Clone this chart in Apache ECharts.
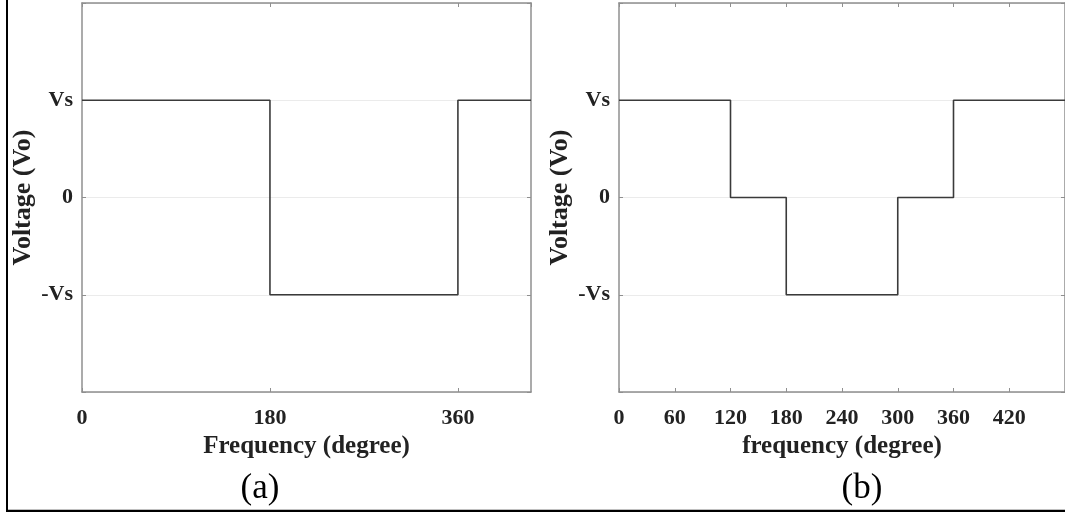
<!DOCTYPE html>
<html>
<head>
<meta charset="utf-8">
<script src="https://cdn.jsdelivr.net/npm/echarts@6/dist/echarts.min.js"></script>
<style>
html,body{margin:0;padding:0;background:#fff;}
#chart{width:1065px;height:512px;}
</style>
</head>
<body>
<div id="chart"></div>
<script>
// ---- data ----
const aDegrees = [0, 180, 360, 430];
const aLevels  = [1, -1, 1, 1];
const bDegrees = [0, 120, 180, 300, 360, 480];
const bLevels  = [1, 0, -1, 0, 1, 1];
const yTickValues = [-1, 0, 1];
const yTickLabels = ['-Vs', '0', 'Vs'];
const aXRange = [0, 430];
const bXRange = [0, 480];
const aXInterval = 180;
const bXInterval = 60;
const yAxisName = 'Voltage (Vo)';
const aXName = 'Frequency (degree)';
const bXName = 'frequency (degree)';
const panelTags = ['(a)', '(b)'];

const FONT = 'Liberation Serif';
const boxColor = '#8f8f8f';

function yLabel(v) {
  const i = yTickValues.indexOf(v);
  return i >= 0 ? yTickLabels[i] : '';
}

function mainX(grid, range, interval, name) {
  return {
    type: 'value', gridIndex: grid, position: 'bottom',
    min: range[0], max: range[1], interval: interval,
    name: name, nameLocation: 'middle', nameGap: 41,
    nameTextStyle: {fontFamily: FONT, fontWeight: 'bold', fontSize: 25, color: '#222'},
    axisLine: {show: true, onZero: false, lineStyle: {color: boxColor, width: 1.5}},
    axisTick: {show: true, inside: true, length: 4, lineStyle: {color: boxColor}},
    axisLabel: {fontFamily: FONT, fontWeight: 'bold', fontSize: 22, color: '#222', margin: 15,
      showMaxLabel: false},
    splitLine: {show: false}
  };
}
function topX(grid, range, interval) {
  return {
    type: 'value', gridIndex: grid, position: 'top',
    min: range[0], max: range[1], interval: interval,
    axisLine: {show: true, onZero: false, lineStyle: {color: boxColor, width: 1.5}},
    axisTick: {show: true, inside: true, length: 4, lineStyle: {color: boxColor}},
    axisLabel: {show: false}, splitLine: {show: false}
  };
}
function leftY(grid) {
  return {
    type: 'value', gridIndex: grid, position: 'left',
    min: -2, max: 2, interval: 1,
    name: yAxisName, nameLocation: 'middle', nameGap: 46,
    nameTextStyle: {fontFamily: FONT, fontWeight: 'bold', fontSize: 26, color: '#222'},
    axisLine: {show: true, onZero: false, lineStyle: {color: boxColor, width: 1.5}},
    axisTick: {show: true, inside: true, length: 4, lineStyle: {color: boxColor}},
    axisLabel: {fontFamily: FONT, fontWeight: 'bold', fontSize: 22, color: '#222', margin: 9,
      formatter: yLabel},
    splitLine: {show: true, lineStyle: {color: '#ebebeb', width: 1}}
  };
}
function rightY(grid) {
  return {
    type: 'value', gridIndex: grid, position: 'right',
    min: -2, max: 2, interval: 1,
    axisLine: {show: true, onZero: false, lineStyle: {color: boxColor, width: 1.5}},
    axisTick: {show: true, inside: true, length: 4, lineStyle: {color: boxColor}},
    axisLabel: {show: false}, splitLine: {show: false}
  };
}

const chart = echarts.init(document.getElementById('chart'), null, {renderer: 'canvas'});
chart.setOption({
  animation: false,
  backgroundColor: '#fff',
  grid: [
    {left: 82, top: 3, right: 534, bottom: 120},
    {left: 619, top: 3, right: -4, bottom: 120}
  ],
  xAxis: [
    mainX(0, aXRange, aXInterval, aXName),
    topX(0, aXRange, aXInterval),
    mainX(1, bXRange, bXInterval, bXName),
    topX(1, bXRange, bXInterval)
  ],
  yAxis: [leftY(0), rightY(0), leftY(1), rightY(1)],
  series: [
    {type: 'line', xAxisIndex: 0, yAxisIndex: 0, step: 'end', showSymbol: false,
     lineStyle: {color: '#3a3a3a', width: 1.6},
     data: aDegrees.map((d, i) => [d, aLevels[i]])},
    {type: 'line', xAxisIndex: 2, yAxisIndex: 2, step: 'end', showSymbol: false,
     lineStyle: {color: '#3a3a3a', width: 1.6},
     data: bDegrees.map((d, i) => [d, bLevels[i]])}
  ],
  graphic: [
    {type: 'line', shape: {x1: 7, y1: 0, x2: 7, y2: 512}, style: {stroke: '#000', lineWidth: 2}},
    {type: 'line', shape: {x1: 6, y1: 511, x2: 1065, y2: 511}, style: {stroke: '#000', lineWidth: 2.5}},
    {type: 'text', x: 260, y: 489, style: {text: panelTags[0], font: '35px "Liberation Serif"', fill: '#000', textAlign: 'center', textVerticalAlign: 'middle'}},
    {type: 'text', x: 862, y: 489, style: {text: panelTags[1], font: '35px "Liberation Serif"', fill: '#000', textAlign: 'center', textVerticalAlign: 'middle'}}
  ]
});
</script>
</body>
</html>
